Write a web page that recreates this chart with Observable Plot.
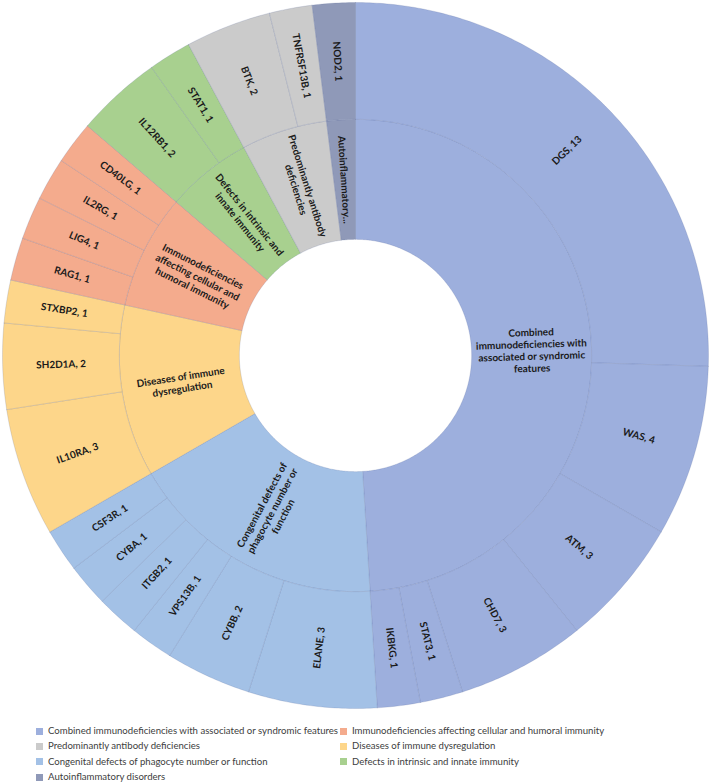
<!DOCTYPE html>
<html><head><meta charset="utf-8">
<script src="https://cdn.jsdelivr.net/npm/d3@7"></script>
<script src="https://cdn.jsdelivr.net/npm/@observablehq/plot@0.6"></script>
<style>
body{margin:0;background:#fff;font-family:Lato,"Open Sans",sans-serif;}
#chart svg{display:block}
#legend{position:relative;width:709px;height:61px;font-size:9.6px;color:#404040;font-family:Lato,sans-serif}
.item{position:absolute;display:flex;align-items:center;white-space:nowrap;height:14px;line-height:14px}
.sw{width:7px;height:7px;margin-right:5px;flex:none}
</style></head><body>
<div id="chart"></div><div id="legend"></div>
<script>
// Inner ring categories, clockwise from 12 o'clock
const categories = [
  "Combined immunodeficiencies with associated or syndromic features",
  "Congenital defects of phagocyte number or function",
  "Diseases of immune dysregulation",
  "Immunodeficiencies affecting cellular and humoral immunity",
  "Defects in intrinsic and innate immunity",
  "Predominantly antibody deficiencies",
  "Autoinflammatory disorders"
];
const categoryLabels = [
  "Combined\nimmunodeficiencies with\nassociated or syndromic\nfeatures",
  "Congenital defects of\nphagocyte number or\nfunction",
  "Diseases of immune\ndysregulation",
  "Immunodeficiencies\naffecting cellular and\nhumoral immunity",
  "Defects in intrinsic and\ninnate immunity",
  "Predominantly antibody\ndeficiencies",
  "Autoinflammatory..."
];
const categoryColors = ["#9DAFDD", "#A3C1E6", "#FDD68A", "#F4AB8D", "#A8D08F", "#CBCBCB", "#8F99B8"];
const legendOrder = [0, 3, 5, 2, 1, 4, 6];

// Outer ring genes
const genes = ["DGS","WAS","ATM","CHD7","STAT3","IKBKG",
               "ELANE","CYBB","VPS13B","ITGB2","CYBA","CSF3R",
               "IL10RA","SH2D1A","STXBP2",
               "RAG1","LIG4","IL2RG","CD40LG",
               "IL12RB1","STAT1",
               "BTK","TNFRSF13B",
               "NOD2"];
const geneCounts = [13,4,3,3,1,1, 3,2,1,1,1,1, 3,2,1, 1,1,1,1, 2,1, 2,1, 1];
const geneCategory = [0,0,0,0,0,0, 1,1,1,1,1,1, 2,2,2, 3,3,3,3, 4,4, 5,5, 6];

// ring radii (fraction of outer radius)
const R0 = 0.329, R1 = 0.669, R2 = 1;

const total = d3.sum(geneCounts);
const catTotals = categories.map((c, i) => d3.sum(geneCounts.filter((_, j) => geneCategory[j] === i)));

function arc(a0, a1, r0, r1, id, cat) {
  const n = Math.max(2, Math.ceil((a1 - a0) / 0.01));
  const pts = [];
  for (let k = 0; k <= n; k++) { const a = a0 + (a1 - a0) * k / n; pts.push({id, cat, x: r1 * Math.sin(a), y: r1 * Math.cos(a)}); }
  for (let k = n; k >= 0; k--) { const a = a0 + (a1 - a0) * k / n; pts.push({id, cat, x: r0 * Math.sin(a), y: r0 * Math.cos(a)}); }
  pts.push(pts[0]);
  return pts;
}
function rot(a) { const deg = a * 180 / Math.PI; return deg < 180 ? deg - 90 : deg - 270; }

const polys = [], labels = [];
let acc = 0;
categories.forEach((c, i) => {
  const a0 = acc / total * 2 * Math.PI, a1 = (acc + catTotals[i]) / total * 2 * Math.PI;
  polys.push(...arc(a0, a1, R0, R1, "c" + i, c));
  const m = (a0 + a1) / 2, r = (R0 + R1) / 2;
  labels.push({x: r * Math.sin(m), y: r * Math.cos(m), rotate: rot(m), text: categoryLabels[i], ring: 0});
  acc += catTotals[i];
});
acc = 0;
genes.forEach((g, j) => {
  const a0 = acc / total * 2 * Math.PI, a1 = (acc + geneCounts[j]) / total * 2 * Math.PI;
  polys.push(...arc(a0, a1, R1, R2, "g" + j, categories[geneCategory[j]]));
  const m = (a0 + a1) / 2, r = (R1 + R2) / 2;
  labels.push({x: r * Math.sin(m), y: r * Math.cos(m), rotate: rot(m), text: `${g}, ${geneCounts[j]}`, ring: 1});
  acc += geneCounts[j];
});

const chart = Plot.plot({
  width: 709, height: 722,
  margin: 0,
  x: {domain: [-1, 1], range: [2, 708], axis: null},
  y: {domain: [1, -1], range: [2, 708], axis: null},
  color: {domain: categories, range: categoryColors},
  style: {fontFamily: "Lato, 'Open Sans', sans-serif", background: "#fff"},
  marks: [
    Plot.line(polys, {x: "x", y: "y", z: "id", fill: "cat", stroke: "#4a5e8e", strokeOpacity: 0.22, strokeWidth: 0.8, curve: "linear"}),
    Plot.text(labels.filter(d => d.ring === 1), {x: "x", y: "y", text: "text", rotate: "rotate", fontSize: 10, fontWeight: "bold", fill: "#1a1a1a"}),
    Plot.text(labels.filter(d => d.ring === 0), {x: "x", y: "y", text: "text", rotate: "rotate", fontSize: 10, lineHeight: 1.2, fill: "#1a1a1a", fontWeight: "bold"})
  ]
});
document.getElementById("chart").append(chart);

const legend = document.getElementById("legend");
legendOrder.forEach((ci, k) => {
  const row = Math.floor(k / 2), col = k % 2;
  const el = document.createElement("div");
  el.className = "item";
  el.style.left = (col ? 340 : 36) + "px";
  el.style.top = (2 + row * 15.4) + "px";
  el.innerHTML = `<span class="sw" style="background:${categoryColors[ci]}"></span><span>${categories[ci]}</span>`;
  legend.append(el);
});
</script>
</body></html>
